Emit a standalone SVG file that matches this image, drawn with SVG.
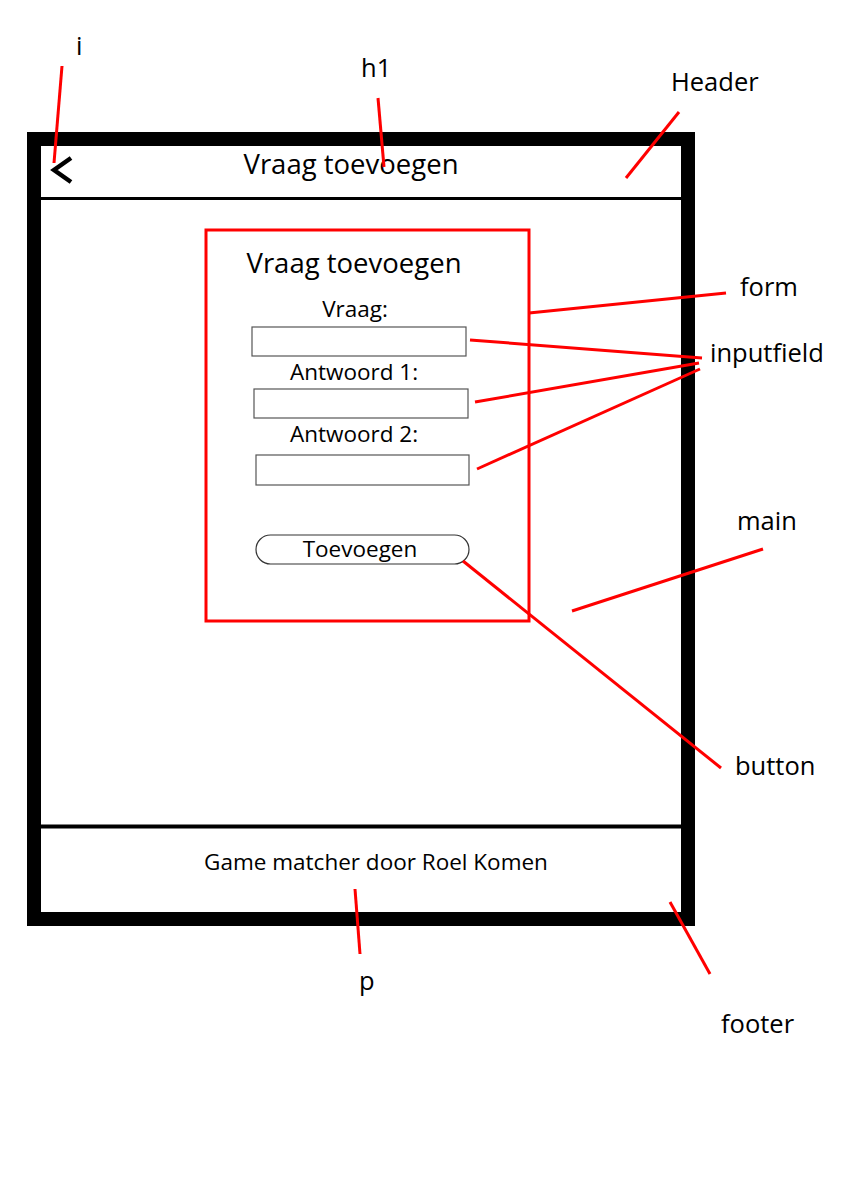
<svg xmlns="http://www.w3.org/2000/svg" width="843" height="1191" viewBox="0 0 843 1191">
<style>
text{font-family:"Open Sans","Liberation Sans",sans-serif;fill:#000}
.lbl{font-size:25.5px}
.big{font-size:27.5px;text-anchor:middle}
.mid{font-size:22.5px;text-anchor:middle}
.field{fill:#fff;stroke:#555;stroke-width:1.2}
.red{stroke:#ff0000;stroke-width:3;fill:none;stroke-linecap:butt}
</style>
<rect width="843" height="1191" fill="#fff"/>
<g id="frame">
<rect x="34" y="139" width="654" height="780" fill="#fff" stroke="#000" stroke-width="14"/>
</g>
<g id="header">
<line x1="41" y1="198.5" x2="681" y2="198.5" stroke="#000" stroke-width="3"/>
<polyline points="71,158 54,170 71,182" fill="none" stroke="#000" stroke-width="4.5"/>
<text class="big" x="351" y="174">Vraag toevoegen</text>
</g>
<g id="footer">
<line x1="41" y1="826.5" x2="681" y2="826.5" stroke="#000" stroke-width="4"/>
<text class="mid" x="376" y="870">Game matcher door Roel Komen</text>
</g>
<g id="form">
<rect class="red" x="206" y="230" width="323" height="391"/>
<text class="big" x="354" y="273">Vraag toevoegen</text>
<text class="mid" x="355" y="317">Vraag:</text>
<rect class="field" x="252" y="327" width="214" height="29"/>
<text class="mid" x="354" y="380">Antwoord 1:</text>
<rect class="field" x="254" y="389" width="214" height="29"/>
<text class="mid" x="354" y="442">Antwoord 2:</text>
<rect class="field" x="256" y="455" width="213" height="30"/>
<rect id="button" x="256" y="535" width="213" height="29" rx="14.5" fill="#fff" stroke="#333" stroke-width="1.2"/>
<text class="mid" x="360" y="557">Toevoegen</text>
</g>
<g id="connectors">
<line class="red" x1="62" y1="66" x2="54" y2="163"/>
<line class="red" x1="378" y1="98" x2="384" y2="167"/>
<line class="red" x1="679" y1="112" x2="626" y2="178"/>
<line class="red" x1="726" y1="293" x2="529" y2="313"/>
<line class="red" x1="470" y1="340" x2="702" y2="358"/>
<line class="red" x1="475" y1="402" x2="699" y2="363"/>
<line class="red" x1="477" y1="469" x2="700" y2="369"/>
<line class="red" x1="763" y1="549" x2="572" y2="611"/>
<line class="red" x1="463" y1="561" x2="721" y2="768"/>
<line class="red" x1="355" y1="889" x2="360" y2="954"/>
<line class="red" x1="670" y1="902" x2="710" y2="974"/>
</g>
<g id="labels">
<text class="lbl" x="76" y="55">i</text>
<text class="lbl" x="361" y="77">h1</text>
<text class="lbl" x="671" y="91">Header</text>
<text class="lbl" x="740" y="296">form</text>
<text class="lbl" x="710" y="362">inputfield</text>
<text class="lbl" x="737" y="530">main</text>
<text class="lbl" x="735" y="775">button</text>
<text class="lbl" x="359" y="990">p</text>
<text class="lbl" x="721" y="1033">footer</text>
</g>
</svg>
